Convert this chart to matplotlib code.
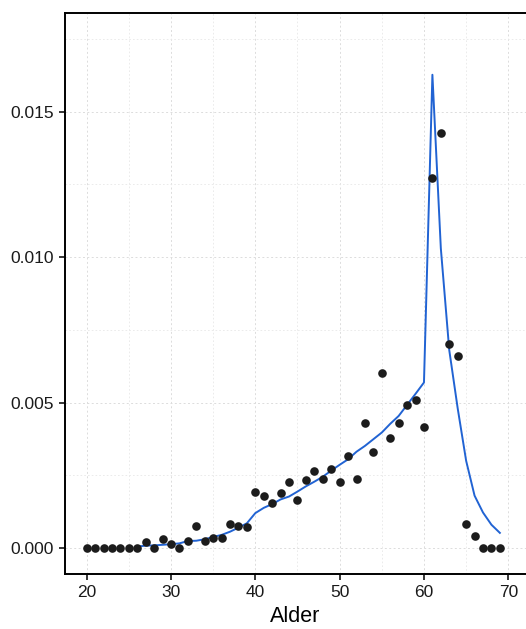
import numpy as np
import matplotlib
matplotlib.use("Agg")
import matplotlib.pyplot as plt
from matplotlib.ticker import MultipleLocator

plt.rcParams['font.family'] = ['Liberation Sans', 'DejaVu Sans']

# === observed rates per age ===
ages = list(range(20, 70))
observed = [
    0, 0, 0, 0, 0, 0, 0,                                  # 20-26
    0.00020, 0, 0.00030, 0.00014, 0, 0.00024, 0.00076,    # 27-33
    0.00023, 0.00036, 0.00036, 0.00081, 0.00077, 0.00072, # 34-39
    0.00191, 0.00180, 0.00154, 0.00190, 0.00228, 0.00165, # 40-45
    0.00234, 0.00265, 0.00238, 0.00271, 0.00227, 0.00316, # 46-51
    0.00238, 0.00430, 0.00331, 0.00602, 0.00378, 0.00431, # 52-57
    0.00492, 0.00509, 0.00415, 0.01272, 0.01428, 0.00701, # 58-63
    0.00659, 0.00083, 0.00041, 0, 0, 0,                   # 64-69
]

# === fitted curve ===
fit_ages = list(range(26, 70))
fitted = [
    0.00005, 0.00008, 0.00009, 0.00011, 0.00013, 0.00016, 0.00024,  # 26-32
    0.00025, 0.00030, 0.00038, 0.00045, 0.00056, 0.00070, 0.00085,  # 33-39
    0.00120, 0.00138, 0.00151, 0.00167, 0.00177, 0.00194, 0.00212,  # 40-46
    0.00228, 0.00245, 0.00266, 0.00286, 0.00305, 0.00331, 0.00351,  # 47-53
    0.00374, 0.00397, 0.00427, 0.00454, 0.00492, 0.00530, 0.00569,  # 54-60
    0.01627, 0.01030, 0.00680, 0.00480, 0.00300, 0.00180, 0.00122,  # 61-67
    0.00080, 0.00052,                                               # 68-69
]

fig = plt.figure(figsize=(5.26, 6.29), dpi=100)
# panel reaches the right edge of the picture (its right border is cut off)
ax = fig.add_axes([65 / 526, 55 / 629, 461 / 526, 561.5 / 629])

ax.set_xlim(17.43, 72.1)
ax.set_ylim(-0.000894, 0.01841)

ax.xaxis.set_major_locator(MultipleLocator(10))
ax.xaxis.set_minor_locator(MultipleLocator(5))
ax.yaxis.set_major_locator(MultipleLocator(0.005))
ax.yaxis.set_minor_locator(MultipleLocator(0.0025))
ax.yaxis.set_major_formatter(matplotlib.ticker.FormatStrFormatter('%.3f'))

ax.grid(True, which='major', color='#dcdcdc', linestyle=(0, (2, 2.5)), linewidth=0.7)
ax.grid(True, which='minor', color='#e8e8e8', linestyle=(0, (2, 2.5)), linewidth=0.6)
ax.set_axisbelow(True)

ax.plot(fit_ages, fitted, color='#2163d3', linewidth=1.4, zorder=2)
ax.plot(ages, observed, 'o', color='#1c1c1c', markersize=6.2, markeredgewidth=0, zorder=3)

for s in ax.spines.values():
    s.set_linewidth(1.4)
    s.set_color('black')
ax.spines['right'].set_visible(False)

ax.tick_params(axis='both', which='major', length=4, width=1.1, color='black',
               labelsize=12.5, labelcolor='#1a1a1a', pad=4)
ax.tick_params(axis='both', which='minor', length=0)

ax.set_xlabel('Alder', fontsize=15.5, labelpad=4, color='black')

fig.savefig('out.png', dpi=100)
